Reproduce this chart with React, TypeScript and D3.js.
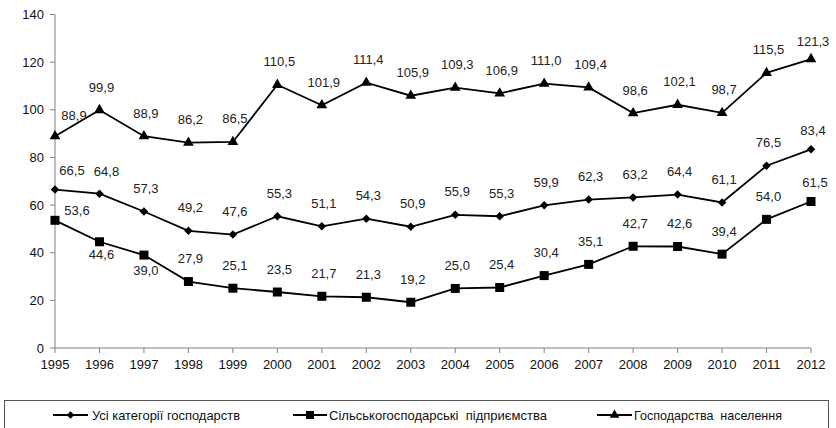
import * as d3 from "d3";

const years = [1995, 1996, 1997, 1998, 1999, 2000, 2001, 2002, 2003, 2004, 2005, 2006, 2007, 2008, 2009, 2010, 2011, 2012];
const allCategories = [66.5, 64.8, 57.3, 49.2, 47.6, 55.3, 51.1, 54.3, 50.9, 55.9, 55.3, 59.9, 62.3, 63.2, 64.4, 61.1, 76.5, 83.4];
const agriEnterprises = [53.6, 44.6, 39.0, 27.9, 25.1, 23.5, 21.7, 21.3, 19.2, 25.0, 25.4, 30.4, 35.1, 42.7, 42.6, 39.4, 54.0, 61.5];
const households = [88.9, 99.9, 88.9, 86.2, 86.5, 110.5, 101.9, 111.4, 105.9, 109.3, 106.9, 111.0, 109.4, 98.6, 102.1, 98.7, 115.5, 121.3];
const yTicks = [0, 20, 40, 60, 80, 100, 120, 140];
const seriesNames = ["Усі категорії господарств", "Сільськогосподарські  підприємства", "Господарства  населення"];

const W = 836;
const H = 428;
const FONT = "'Liberation Sans', Arial, sans-serif";
const NARROW = "'Liberation Sans Narrow', 'Arial Narrow', 'Liberation Sans', sans-serif";

// label nudges (dx, dy of label centre from the point), default is above
const labelNudge: Record<string, [number, number]> = {
  "h-0": [19, -21],
  "a-0": [17, -19],
  "a-1": [7, -22],
  "s-0": [22, -10],
  "s-1": [2, 13],
  "s-2": [2, 15],
  "h-17": [2, -18],
  "a-17": [2, -19],
  "s-17": [4, -19],
};

type Shape = "diamond" | "square" | "triangle";

function markerPath(shape: Shape, scale = 1) {
  if (shape === "square") return d3.symbol(d3.symbolSquare, 81 * scale)()!;
  if (shape === "triangle") return d3.symbol(d3.symbolTriangle, 50 * scale)()!;
  return d3.symbol(d3.symbolSquare, 36 * scale)()!;
}

export default function App() {
  const x = d3.scalePoint<number>().domain(years).range([55, 811]);
  const y = d3.scaleLinear().domain([0, 140]).range([348, 14.5]);

  const series = [
    { key: "a", values: allCategories, shape: "diamond" as Shape },
    { key: "s", values: agriEnterprises, shape: "square" as Shape },
    { key: "h", values: households, shape: "triangle" as Shape },
  ];

  const line = d3
    .line<number>()
    .x((_, i) => x(years[i])!)
    .y((d) => y(d));

  const fmt = (v: number) => v.toFixed(1).replace(".", ",");

  const legendItems = [
    { shape: "diamond" as Shape, x1: 53, x2: 88, tx: 92, tw: 148, name: seriesNames[0] },
    { shape: "square" as Shape, x1: 293, x2: 327, tx: 329, tw: 218, name: seriesNames[1] },
    { shape: "triangle" as Shape, x1: 597, x2: 632, tx: 634, tw: 148, name: seriesNames[2] },
  ];

  return (
    <svg width={W} height={H} style={{ position: "absolute", left: 0, top: 0, background: "#fff" }}>
      {/* y axis */}
      <line x1={55} x2={55} y1={y(140)} y2={y(0)} stroke="#808080" strokeWidth={1} />
      {yTicks.map((t) => (
        <g key={t}>
          <line x1={50} x2={55} y1={y(t)} y2={y(t)} stroke="#808080" />
          <text x={44} y={y(t)} dy="0.35em" textAnchor="end" fontFamily={FONT} fontSize={13} fill="#111">
            {t}
          </text>
        </g>
      ))}
      {/* x axis */}
      <line x1={55} x2={811} y1={y(0)} y2={y(0)} stroke="#808080" />
      {years.map((yr) => (
        <g key={yr}>
          <line x1={x(yr)} x2={x(yr)} y1={y(0)} y2={y(0) + 5} stroke="#808080" />
          <text x={x(yr)} y={364} dy="0.35em" textAnchor="middle" fontFamily={FONT} fontSize={13} fill="#111">
            {yr}
          </text>
        </g>
      ))}

      {series.map((s) => (
        <g key={s.key}>
          <path d={line(s.values)!} fill="none" stroke="#000" strokeWidth={1.8} />
          {s.values.map((v, i) => (
            <path
              key={i}
              d={markerPath(s.shape)}
              transform={`translate(${x(years[i])},${y(v)})${s.shape === "diamond" ? " rotate(45)" : ""}`}
              fill="#000"
            />
          ))}
          {s.values.map((v, i) => {
            const [dx, dy] = labelNudge[`${s.key}-${i}`] ?? [2, -23];
            return (
              <text
                key={`l${i}`}
                x={x(years[i])! + dx}
                y={y(v) + dy}
                dy="0.35em"
                textAnchor="middle"
                fontFamily={FONT}
                fontSize={13}
                fill="#222"
              >
                {fmt(v)}
              </text>
            );
          })}
        </g>
      ))}

      {/* legend */}
      <rect x={4.5} y={400.5} width={824} height={30} fill="none" stroke="#555" strokeWidth={1} />
      {legendItems.map((it, i) => (
        <g key={i}>
          <line x1={it.x1} x2={it.x2} y1={415} y2={415} stroke="#000" strokeWidth={1.8} />
          <path
            d={markerPath(it.shape, 0.8)}
            transform={`translate(${(it.x1 + it.x2) / 2},415)${it.shape === "diamond" ? " rotate(45)" : ""}`}
            fill="#000"
          />
          <text
            x={it.tx}
            y={415}
            dy="0.35em"
            fontFamily={NARROW}
            fontSize={13}
            fill="#111"
            textLength={it.tw}
            lengthAdjust="spacingAndGlyphs"
            style={{ whiteSpace: "pre" }}
          >
            {it.name}
          </text>
        </g>
      ))}
    </svg>
  );
}
